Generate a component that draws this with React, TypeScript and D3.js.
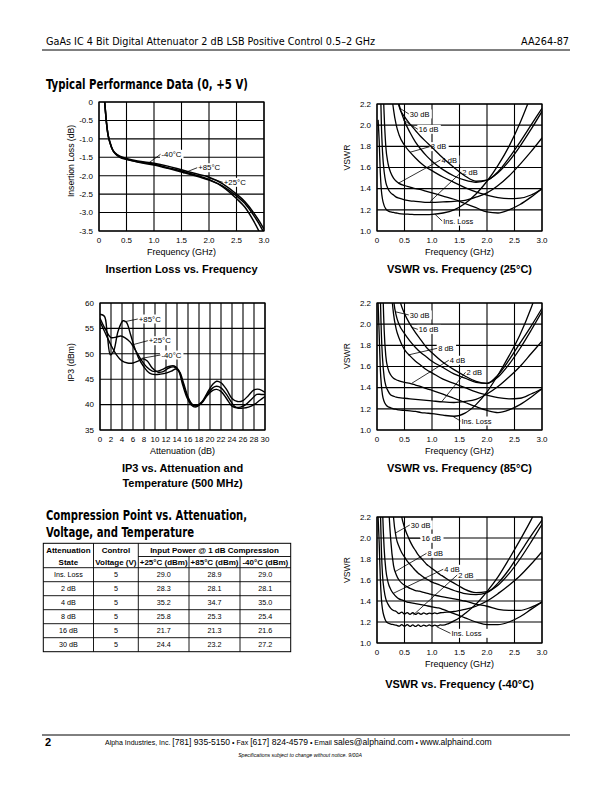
import React from "react";
import * as d3 from "d3";

const SANS = "'Liberation Sans', Arial, Helvetica, sans-serif";
const NARROW = "'Liberation Sans Narrow', 'Arial Narrow', 'DejaVu Sans Condensed', 'Liberation Sans', sans-serif";

// ---------------- Insertion loss vs frequency ----------------
const ilFreq = [0.1, 0.12, 0.135, 0.16, 0.2, 0.25, 0.3, 0.38, 0.5, 0.7, 1.0, 1.25, 1.5, 1.75, 2.0, 2.25, 2.5, 2.65, 2.8, 2.9, 3.0];
const ilM40 = [0.05, -0.3, -0.55, -0.85, -1.1, -1.3, -1.39, -1.47, -1.53, -1.6, -1.66, -1.74, -1.84, -1.94, -2.04, -2.22, -2.5, -2.7, -2.98, -3.2, -3.45];
const ilP85 = [0.05, -0.3, -0.55, -0.85, -1.11, -1.31, -1.41, -1.5, -1.56, -1.62, -1.69, -1.78, -1.87, -1.98, -2.1, -2.3, -2.62, -2.85, -3.2, -3.48, -3.8];
const ilP25 = [0.05, -0.3, -0.55, -0.85, -1.1, -1.31, -1.4, -1.49, -1.55, -1.63, -1.71, -1.8, -1.9, -2.0, -2.12, -2.28, -2.55, -2.75, -3.05, -3.28, -3.55];
const ilXTicks = [0, 0.5, 1, 1.5, 2, 2.5, 3];
const ilYTicks = [0, -0.5, -1, -1.5, -2, -2.5, -3, -3.5];

// ---------------- IP3 vs attenuation ----------------
const ip3AttP85 = [0, 0.8, 1.3, 1.9, 2.5, 3.3, 4.2, 4.8, 5.5, 6.2, 7, 8, 9, 10, 11, 12, 13, 13.8, 14.5, 15.2, 16, 16.8, 17.5, 18.5, 19.5, 20.5, 21.2, 22, 23, 24, 25, 26, 27, 28, 29, 30];
const ip3P85 = [57.8, 57.4, 54, 49.8, 50.6, 54.5, 56.5, 56.2, 54, 51.5, 49.2, 47.4, 46.2, 45.9, 46.0, 46.2, 46.6, 47.0, 46.4, 44.2, 41.5, 40.0, 39.8, 40.5, 42.3, 44.0, 44.6, 44.3, 43.0, 41.2, 40.6, 40.8, 41.8, 42.9, 43.0, 42.4];
const ip3AttP25 = [0, 1, 2, 3, 3.8, 4.5, 5.5, 6.5, 7.5, 8.5, 9.5, 10.5, 11.5, 12.5, 13.5, 14.3, 15, 15.8, 16.6, 17.3, 18.5, 19.5, 20.5, 21.2, 22, 23, 24, 24.7, 25.5, 26.5, 27.5, 28.5, 29.3, 30];
const ip3P25 = [57.0, 54.8, 53.2, 53.3, 53.5, 53.2, 52.3, 50.6, 48.8, 47.4, 46.6, 46.6, 47.0, 47.5, 47.6, 46.8, 44.5, 41.8, 40.2, 39.7, 40.4, 42.0, 43.3, 43.6, 43.3, 42.0, 40.3, 39.5, 39.5, 40.0, 41.0, 42.0, 42.0, 42.0];
const ip3AttM40 = [0, 1, 2, 3, 4, 5, 6, 7, 7.8, 8.6, 9.5, 10.5, 11.5, 12.5, 13.5, 14.3, 15, 15.8, 16.6, 17.3, 18.5, 19.5, 20.5, 21.2, 22, 23, 24, 25, 26, 27, 28, 29, 30];
const ip3M40 = [56.3, 54.0, 51.7, 49.8, 48.6, 48.2, 48.2, 48.6, 49.0, 48.6, 47.2, 46.4, 46.5, 47.2, 47.4, 46.6, 44.0, 41.4, 39.9, 39.5, 40.3, 41.8, 42.8, 43.0, 42.6, 41.2, 39.7, 39.3, 39.3, 39.5, 40.0, 40.8, 41.6];
const ip3XTicks = d3.range(0, 31, 2);
const ip3YTicks = [35, 40, 45, 50, 55, 60];

// ---------------- VSWR (25 C and 85 C share a frequency grid) ----------------
const vFreq = [0.02, 0.04, 0.06, 0.08, 0.1, 0.13, 0.16, 0.2, 0.25, 0.3, 0.35, 0.4, 0.5, 0.6, 0.7, 0.8, 0.9, 1.0, 1.2, 1.4, 1.6, 1.8, 2.0, 2.2, 2.4, 2.6, 2.8, 3.0];
const N = null;
const v25Ins = [2.05, 1.85, 1.55, 1.38, 1.3, 1.24, 1.21, 1.19, 1.18, 1.175, 1.17, 1.165, 1.16, 1.158, 1.155, 1.155, 1.155, 1.157, 1.17, 1.2, 1.26, 1.35, 1.47, 1.62, 1.8, 2.02, 2.28, 2.55];
const v25dB2 = [4, 3.2, 2.45, 2.0, 1.75, 1.56, 1.46, 1.4, 1.36, 1.34, 1.32, 1.31, 1.295, 1.285, 1.28, 1.275, 1.27, 1.27, 1.275, 1.28, 1.29, 1.32, 1.36, 1.43, 1.52, 1.63, 1.75, 1.88];
const v25dB4 = [N, N, N, 3.2, 2.6, 2.1, 1.8, 1.64, 1.55, 1.5, 1.47, 1.45, 1.43, 1.415, 1.4, 1.39, 1.375, 1.36, 1.33, 1.3, 1.26, 1.22, 1.18, 1.17, 1.2, 1.25, 1.32, 1.4];
const v25dB8 = [N, N, N, N, N, N, N, 3.0, 2.4, 2.15, 2.0, 1.91, 1.81, 1.745, 1.69, 1.64, 1.6, 1.57, 1.51, 1.46, 1.41, 1.37, 1.34, 1.315, 1.305, 1.31, 1.34, 1.4];
const v25dB16 = [N, N, N, N, N, N, N, N, 3.2, 2.6, 2.35, 2.2, 2.04, 1.93, 1.84, 1.77, 1.71, 1.66, 1.58, 1.52, 1.48, 1.46, 1.48, 1.55, 1.66, 1.8, 1.96, 2.13];
const v25dB30 = [N, N, N, N, N, N, N, N, N, 3.2, 2.45, 2.18, 2.08, 2.01, 1.95, 1.89, 1.84, 1.79, 1.69, 1.6, 1.52, 1.47, 1.48, 1.56, 1.69, 1.84, 2.0, 2.16];

const v85Ins = [2.2, 1.9, 1.58, 1.42, 1.33, 1.27, 1.24, 1.22, 1.21, 1.2, 1.195, 1.19, 1.185, 1.18, 1.175, 1.165, 1.16, 1.155, 1.14, 1.13, 1.16, 1.24, 1.36, 1.52, 1.7, 1.9, 2.15, 2.45];
const v85dB2 = [4, 3.0, 2.3, 1.9, 1.68, 1.5, 1.42, 1.37, 1.33, 1.32, 1.31, 1.305, 1.3, 1.295, 1.29, 1.285, 1.28, 1.275, 1.265, 1.26, 1.27, 1.29, 1.34, 1.41, 1.5, 1.6, 1.72, 1.84];
const v85dB4 = [N, N, N, 3.2, 2.5, 1.95, 1.7, 1.58, 1.52, 1.49, 1.475, 1.465, 1.45, 1.44, 1.425, 1.41, 1.39, 1.375, 1.34, 1.3, 1.26, 1.22, 1.185, 1.165, 1.19, 1.24, 1.31, 1.39];
const v85dB8 = [N, N, N, N, N, N, N, 3.0, 2.4, 2.1, 1.95, 1.87, 1.76, 1.7, 1.65, 1.61, 1.57, 1.54, 1.48, 1.44, 1.4, 1.36, 1.33, 1.305, 1.295, 1.3, 1.34, 1.39];
const v85dB16 = [N, N, N, N, N, N, N, N, 3.3, 2.7, 2.42, 2.26, 2.1, 2.0, 1.92, 1.85, 1.78, 1.73, 1.64, 1.57, 1.51, 1.46, 1.44, 1.5, 1.62, 1.77, 1.94, 2.12];
const v85dB30 = [N, N, N, N, N, N, N, N, 3.0, 2.25, 2.08, 2.0, 1.91, 1.84, 1.78, 1.73, 1.69, 1.65, 1.59, 1.53, 1.49, 1.45, 1.44, 1.52, 1.66, 1.82, 1.98, 2.15];

// ---------------- VSWR -40 C (finer grid, ripples) ----------------
const vFreqM40 = [0.02, 0.04, 0.06, 0.08, 0.1, 0.13, 0.16, 0.2, 0.25, 0.3, 0.35, 0.4, 0.45, 0.5, 0.55, 0.6, 0.65, 0.7, 0.75, 0.8, 0.85, 0.9, 0.95, 1.0, 1.05, 1.1, 1.15, 1.2, 1.3, 1.4, 1.5, 1.6, 1.8, 2.0, 2.2, 2.4, 2.6, 2.8, 3.0];
const vm40Ins = [2.2, 1.95, 1.62, 1.42, 1.32, 1.25, 1.21, 1.19, 1.18, 1.175, 1.17, 1.16, 1.175, 1.16, 1.175, 1.158, 1.172, 1.158, 1.172, 1.158, 1.17, 1.16, 1.172, 1.16, 1.17, 1.162, 1.172, 1.17, 1.185, 1.21, 1.24, 1.28, 1.37, 1.49, 1.63, 1.8, 1.98, 2.17, 2.38];
const vm40dB2 = [N, 3.0, 2.3, 1.88, 1.65, 1.5, 1.42, 1.37, 1.33, 1.31, 1.3, 1.28, 1.295, 1.275, 1.29, 1.272, 1.288, 1.272, 1.286, 1.274, 1.286, 1.275, 1.285, 1.278, 1.286, 1.28, 1.288, 1.29, 1.295, 1.3, 1.31, 1.32, 1.35, 1.4, 1.47, 1.55, 1.64, 1.75, 1.87];
const vm40dB4 = [N, N, 3.5, 2.8, 2.3, 1.9, 1.7, 1.58, 1.51, 1.47, 1.44, 1.42, 1.41, 1.4, 1.39, 1.385, 1.38, 1.375, 1.37, 1.365, 1.36, 1.355, 1.35, 1.345, 1.34, 1.335, 1.33, 1.32, 1.3, 1.28, 1.26, 1.24, 1.2, 1.175, 1.175, 1.2, 1.25, 1.32, 1.39];
const vm40dB8 = [N, N, N, N, N, N, 3.5, 2.5, 1.98, 1.74, 1.65, 1.6, 1.57, 1.55, 1.535, 1.52, 1.51, 1.5, 1.495, 1.49, 1.482, 1.475, 1.468, 1.46, 1.455, 1.45, 1.445, 1.44, 1.43, 1.42, 1.41, 1.4, 1.37, 1.35, 1.32, 1.31, 1.31, 1.34, 1.39];
const vm40dB16 = [N, N, N, N, N, N, N, N, N, 3.3, 2.7, 2.4, 2.2, 2.1, 2.03, 1.97, 1.92, 1.88, 1.84, 1.81, 1.78, 1.75, 1.73, 1.71, 1.69, 1.67, 1.65, 1.635, 1.6, 1.57, 1.54, 1.51, 1.48, 1.49, 1.55, 1.66, 1.8, 1.96, 2.13];
const vm40dB30 = [N, N, N, N, N, N, N, 3.5, 2.7, 2.2, 2.0, 1.92, 1.86, 1.82, 1.78, 1.75, 1.72, 1.69, 1.665, 1.645, 1.625, 1.61, 1.595, 1.58, 1.57, 1.56, 1.55, 1.54, 1.52, 1.5, 1.485, 1.47, 1.46, 1.48, 1.57, 1.7, 1.86, 2.02, 2.17];

const vXTicks = [0, 0.5, 1, 1.5, 2, 2.5, 3];
const vYTicks = [1.0, 1.2, 1.4, 1.6, 1.8, 2.0, 2.2];

// ---------------- Curve labels (data coordinates: leader start, text start) ----------------
type Note = { text: string; fx: number; fy: number; tx: number; ty: number };
const ilNotes: Note[] = [
  { text: "-40°C", fx: 0.896, fy: -1.663, tx: 1.109, ty: -1.419 },
  { text: "+85°C", fx: 1.533, fy: -1.934, tx: 1.776, ty: -1.783 },
  { text: "+25°C", fx: 1.987, fy: -2.054, tx: 2.242, ty: -2.179 },
];
const ip3Notes: Note[] = [
  { text: "+85°C", fx: 4.42, fy: 56.3, tx: 6.78, ty: 56.85 },
  { text: "+25°C", fx: 5.76, fy: 51.73, tx: 8.6, ty: 52.58 },
  { text: "-40°C", fx: 7.58, fy: 49.11, tx: 10.9, ty: 49.76 },
];
const v25Notes: Note[] = [
  { text: "30 dB", fx: 0.418, fy: 2.159, tx: 0.569, ty: 2.106 },
  { text: "16 dB", fx: 0.478, fy: 2.049, tx: 0.733, ty: 1.961 },
  { text: "8 dB", fx: 0.6, fy: 1.744, tx: 0.951, ty: 1.797 },
  { text: "4 dB", fx: 0.387, fy: 1.451, tx: 1.145, ty: 1.671 },
  { text: "2 dB", fx: 0.964, fy: 1.277, tx: 1.522, ty: 1.555 },
  { text: "Ins. Loss", fx: 1.055, fy: 1.158, tx: 1.176, ty: 1.094 },
];
const v85Notes: Note[] = [
  { text: "30 dB", fx: 0.327, fy: 2.118, tx: 0.569, ty: 2.087 },
  { text: "16 dB", fx: 0.631, fy: 1.97, tx: 0.733, ty: 1.951 },
  { text: "8 dB", fx: 0.569, fy: 1.709, tx: 1.085, ty: 1.772 },
  { text: "4 dB", fx: 0.631, fy: 1.441, tx: 1.296, ty: 1.659 },
  { text: "2 dB", fx: 1.176, fy: 1.267, tx: 1.6, ty: 1.545 },
  { text: "Ins. Loss", fx: 1.387, fy: 1.126, tx: 1.509, ty: 1.085 },
];
const vm40Notes: Note[] = [
  { text: "30 dB", fx: 0.327, fy: 2.045, tx: 0.587, ty: 2.124 },
  { text: "16 dB", fx: 0.569, fy: 1.997, tx: 0.782, ty: 1.997 },
  { text: "8 dB", fx: 0.327, fy: 1.679, tx: 0.891, ty: 1.854 },
  { text: "4 dB", fx: 0.296, fy: 1.473, tx: 1.195, ty: 1.702 },
  { text: "2 dB", fx: 0.66, fy: 1.267, tx: 1.449, ty: 1.648 },
  { text: "Ins. Loss", fx: 1.085, fy: 1.155, tx: 1.327, ty: 1.092 },
];

// ---------------- Compression table ----------------
const attStates = ["Ins. Loss", "2 dB", "4 dB", "8 dB", "16 dB", "30 dB"];
const ctrlVoltage = ["5", "5", "5", "5", "5", "5"];
const comp25 = ["29.0", "28.3", "35.2", "25.8", "21.7", "24.4"];
const comp85 = ["28.9", "28.1", "34.7", "25.3", "21.3", "23.2"];
const compM40 = ["29.0", "28.1", "35.0", "25.4", "21.6", "27.2"];

type Pt = [number, number | null];
const zip = (xs: number[], ys: (number | null)[]): Pt[] => xs.map((x, i) => [x, ys[i]]);

interface ChartProps {
  id: string;
  box: [number, number, number, number];
  xDomain: [number, number];
  yDomain: [number, number];
  xTicks: number[];
  yTicks: number[];
  xFmt: (v: number) => string;
  yFmt: (v: number) => string;
  series: Pt[][];
  strokeW: number;
  curve: d3.CurveFactory;
  notes: Note[];
  noteSize: number;
  xTitle: string;
  yTitle: string;
  yTitleX: number;
  yTitleY: number;
  titles: string[];
  titleY: number;
}

function Chart(p: ChartProps) {
  const [x0, x1, y0, y1] = p.box;
  const xs = d3.scaleLinear().domain(p.xDomain).range([x0, x1]);
  const ys = d3.scaleLinear().domain(p.yDomain).range([y1, y0]);
  const line = d3
    .line<Pt>()
    .defined((d) => d[1] !== null)
    .x((d) => xs(d[0]))
    .y((d) => ys(d[1] as number))
    .curve(p.curve);
  const cx = (x0 + x1) / 2;
  return (
    <g>
      <defs>
        <clipPath id={p.id}>
          <rect x={x0} y={y0} width={x1 - x0} height={y1 - y0} />
        </clipPath>
      </defs>
      {p.xTicks.map((t) => (
        <line key={"vx" + t} x1={xs(t)} x2={xs(t)} y1={y0} y2={y1} stroke="#000" strokeWidth={1.1} />
      ))}
      {p.yTicks.map((t) => (
        <line key={"hy" + t} x1={x0} x2={x1} y1={ys(t)} y2={ys(t)} stroke="#000" strokeWidth={1.1} />
      ))}
      <rect x={x0} y={y0} width={x1 - x0} height={y1 - y0} fill="none" stroke="#000" strokeWidth={1.2} />
      {p.notes.map((n, i) => (
        <rect key={"nb" + i} x={xs(n.tx)} y={ys(n.ty) - 4.5} width={n.text.length * 4.1 + 3} height={9} fill="#fff" />
      ))}
      <g clipPath={`url(#${p.id})`}>
        {p.series.map((s, i) => (
          <path key={"s" + i} d={line(s) || ""} fill="none" stroke="#000" strokeWidth={p.strokeW} strokeLinejoin="round" />
        ))}
      </g>
      {p.notes.map((n, i) => (
        <g key={"n" + i}>
          <line x1={xs(n.fx)} y1={ys(n.fy)} x2={xs(n.tx) + 0.5} y2={ys(n.ty)} stroke="#000" strokeWidth={0.8} />
          <text x={xs(n.tx) + 1.5} y={ys(n.ty) + 2.7} fontSize={p.noteSize} fill="#000">
            {n.text}
          </text>
        </g>
      ))}
      {p.yTicks.map((t) => (
        <text key={"yl" + t} x={x0 - 6} y={ys(t) + 2.8} fontSize={8} textAnchor="end" fill="#000">
          {p.yFmt(t)}
        </text>
      ))}
      {p.xTicks.map((t) => (
        <text key={"xl" + t} x={xs(t)} y={y1 + 11.5} fontSize={8} textAnchor="middle" fill="#000">
          {p.xFmt(t)}
        </text>
      ))}
      <text x={cx} y={y1 + 24} fontSize={9} textAnchor="middle" fill="#000">
        {p.xTitle}
      </text>
      <text transform={`translate(${p.yTitleX},${p.yTitleY}) rotate(-90)`} fontSize={8.6} textAnchor="middle" fill="#000">
        {p.yTitle}
      </text>
      {p.titles.map((t, i) => (
        <text key={"t" + i} x={cx} y={p.titleY + i * 15} fontSize={11} fontWeight="bold" textAnchor="middle" fill="#000">
          {t}
        </text>
      ))}
    </g>
  );
}

const fmtHalf = (v: number) => (v === 0 ? "0" : v.toFixed(1));
const fmt1 = (v: number) => v.toFixed(1);
const fmtInt = (v: number) => String(v);

function Table() {
  const cols = [43.3, 93.5, 138.3, 189, 240, 290.7];
  const top = 543.3;
  const mid = 556.5;
  const hdrBottom = 567.7;
  const rowH = 14;
  const rowY = d3.scaleLinear().domain([0, attStates.length]).range([hdrBottom, hdrBottom + rowH * attStates.length]);
  const bottom = rowY(attStates.length);
  const colMid = (i: number) => (cols[i] + cols[i + 1]) / 2;
  const dataCols = [attStates, ctrlVoltage, comp25, comp85, compM40];
  return (
    <g>
      <rect x={cols[0]} y={top} width={cols[5] - cols[0]} height={bottom - top} fill="none" stroke="#000" strokeWidth={1} />
      {cols.slice(1, 5).map((c, i) => (
        <line key={"c" + i} x1={c} x2={c} y1={i >= 2 ? mid : top} y2={bottom} stroke="#000" strokeWidth={0.9} />
      ))}
      <line x1={cols[2]} x2={cols[5]} y1={mid} y2={mid} stroke="#000" strokeWidth={0.9} />
      {d3.range(0, attStates.length).map((r) => (
        <line key={"r" + r} x1={cols[0]} x2={cols[5]} y1={rowY(r)} y2={rowY(r)} stroke="#000" strokeWidth={0.9} />
      ))}
      <g fontSize={8} fontWeight="bold" textAnchor="middle" fill="#000">
        <text x={colMid(0)} y={553}>Attenuation</text>
        <text x={colMid(0)} y={565}>State</text>
        <text x={colMid(1)} y={553}>Control</text>
        <text x={colMid(1)} y={565}>Voltage (V)</text>
        <text x={(cols[2] + cols[5]) / 2} y={553}>Input Power @ 1 dB Compression</text>
        <text x={colMid(2)} y={565}>+25°C (dBm)</text>
        <text x={colMid(3)} y={565}>+85°C (dBm)</text>
        <text x={colMid(4)} y={565}>-40°C (dBm)</text>
      </g>
      <g fontSize={7.2} textAnchor="middle" fill="#000">
        {dataCols.map((col, ci) =>
          col.map((v, ri) => (
            <text key={ci + "-" + ri} x={colMid(ci)} y={rowY(ri) + rowH / 2 + 2.6}>
              {v}
            </text>
          ))
        )}
      </g>
    </g>
  );
}

export default function App() {
  const vSeries25 = [v25Ins, v25dB2, v25dB4, v25dB8, v25dB16, v25dB30].map((s) => zip(vFreq, s));
  const vSeries85 = [v85Ins, v85dB2, v85dB4, v85dB8, v85dB16, v85dB30].map((s) => zip(vFreq, s));
  const vSeriesM40 = [vm40Ins, vm40dB2, vm40dB4, vm40dB8, vm40dB16, vm40dB30].map((s) => zip(vFreqM40, s));
  const ilSeries = [ilM40, ilP85, ilP25].map((s) => zip(ilFreq, s));
  const ip3Series = [zip(ip3AttP85, ip3P85), zip(ip3AttP25, ip3P25), zip(ip3AttM40, ip3M40)];

  const vswrCommon = {
    xDomain: [0, 3] as [number, number],
    yDomain: [1, 2.2] as [number, number],
    xTicks: vXTicks,
    yTicks: vYTicks,
    xFmt: fmtHalf,
    yFmt: fmt1,
    strokeW: 1.3,
    curve: d3.curveMonotoneX,
    noteSize: 7.5,
    xTitle: "Frequency (GHz)",
    yTitle: "VSWR",
    yTitleX: 350,
  };

  return (
    <svg
      width={612}
      height={792}
      viewBox="0 0 612 792"
      style={{ position: "absolute", left: 0, top: 0 }}
      fontFamily={SANS}
    >
      <rect x={0} y={0} width={612} height={792} fill="#fff" />

      {/* page header */}
      <text x={46} y={44.5} fontFamily={NARROW} fontSize={11} textLength={329} lengthAdjust="spacingAndGlyphs" fill="#000">
        GaAs IC 4 Bit Digital Attenuator 2 dB LSB Positive Control 0.5–2 GHz
      </text>
      <text x={521} y={44.5} fontFamily={NARROW} fontSize={11} textLength={48} lengthAdjust="spacingAndGlyphs" fill="#000">
        AA264-87
      </text>
      <line x1={42} x2={570} y1={50} y2={50} stroke="#000" strokeWidth={1} />

      <text x={46} y={88.5} fontFamily={NARROW} fontSize={14} fontWeight="bold" textLength={202} lengthAdjust="spacingAndGlyphs" fill="#000">
        Typical Performance Data (0, +5 V)
      </text>

      <Chart
        id="clipIL"
        box={[99, 264, 102, 231]}
        xDomain={[0, 3]}
        yDomain={[-3.5, 0]}
        xTicks={ilXTicks}
        yTicks={ilYTicks}
        xFmt={fmtHalf}
        yFmt={fmtHalf}
        series={ilSeries}
        strokeW={1.5}
        curve={d3.curveMonotoneX}
        notes={ilNotes}
        noteSize={7.8}
        xTitle="Frequency (GHz)"
        yTitle="Insertion Loss (dB)"
        yTitleX={73.5}
        yTitleY={161}
        titles={["Insertion Loss vs. Frequency"]}
        titleY={272.5}
      />

      <Chart
        id="clipV25"
        box={[377, 542, 104, 231]}
        {...vswrCommon}
        series={vSeries25}
        notes={v25Notes}
        yTitleY={157.5}
        titles={["VSWR vs. Frequency (25°C)"]}
        titleY={273}
      />

      <Chart
        id="clipIP3"
        box={[100, 265, 303, 430]}
        xDomain={[0, 30]}
        yDomain={[35, 60]}
        xTicks={ip3XTicks}
        yTicks={ip3YTicks}
        xFmt={fmtInt}
        yFmt={fmtInt}
        series={ip3Series}
        strokeW={1.4}
        curve={d3.curveCatmullRom.alpha(0.5)}
        notes={ip3Notes}
        noteSize={7.8}
        xTitle="Attenuation (dB)"
        yTitle="IP3 (dBm)"
        yTitleX={73.5}
        yTitleY={362.5}
        titles={["IP3 vs. Attenuation and", "Temperature (500 MHz)"]}
        titleY={472}
      />

      <Chart
        id="clipV85"
        box={[377, 542, 303, 430]}
        {...vswrCommon}
        series={vSeries85}
        notes={v85Notes}
        yTitleY={356}
        titles={["VSWR vs. Frequency (85°C)"]}
        titleY={472}
      />

      <text x={46} y={519.5} fontFamily={NARROW} fontSize={14} fontWeight="bold" textLength={201} lengthAdjust="spacingAndGlyphs" fill="#000">
        Compression Point vs. Attenuation,
      </text>
      <text x={46} y={536.5} fontFamily={NARROW} fontSize={14} fontWeight="bold" textLength={148} lengthAdjust="spacingAndGlyphs" fill="#000">
        Voltage, and Temperature
      </text>
      <Table />

      <Chart
        id="clipVm40"
        box={[377, 542, 517, 643]}
        {...vswrCommon}
        series={vSeriesM40}
        notes={vm40Notes}
        yTitleY={570}
        titles={["VSWR vs. Frequency (-40°C)"]}
        titleY={688}
      />

      {/* footer */}
      <line x1={42} x2={570} y1={735} y2={735} stroke="#000" strokeWidth={1} />
      <text x={45} y={746} fontSize={11} fontWeight="bold" fill="#000">
        2
      </text>
      <text x={105} y={745} fontSize={7} fill="#000">
        <tspan>Alpha Industries, Inc. </tspan>
        <tspan fontSize={8.6}>[781] 935-5150</tspan>
        <tspan> • Fax </tspan>
        <tspan fontSize={8.6}>[617] 824-4579</tspan>
        <tspan> • Email </tspan>
        <tspan fontSize={8.6}>sales@alphaind.com</tspan>
        <tspan> • </tspan>
        <tspan fontSize={8.6}>www.alphaind.com</tspan>
      </text>
      <text x={300} y={757} fontSize={5.2} fontStyle="italic" textAnchor="middle" fill="#000">
        Specifications subject to change without notice.  9/00A
      </text>
    </svg>
  );
}
